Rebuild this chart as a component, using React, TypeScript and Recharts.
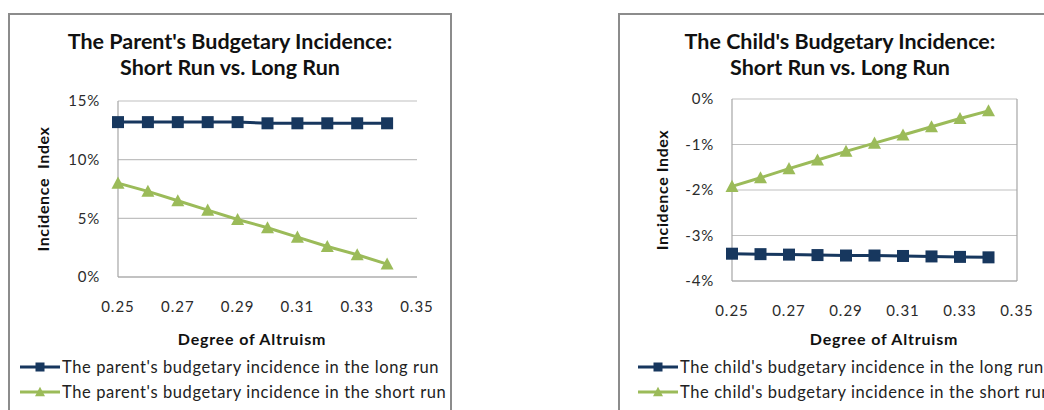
import React from "react";
import {
   LineChart, Line, XAxis, YAxis, CartesianGrid, ReferenceLine,
} from "recharts";

const altruism = [0.25, 0.26, 0.27, 0.28, 0.29, 0.3, 0.31, 0.32, 0.33, 0.34];
const parentLongRun = [13.2, 13.2, 13.2, 13.2, 13.2, 13.1, 13.1, 13.1, 13.1, 13.1];
const parentShortRun = [8.0, 7.3, 6.5, 5.7, 4.9, 4.2, 3.4, 2.6, 1.9, 1.1];
const childLongRun = [-3.4, -3.41, -3.42, -3.43, -3.44, -3.44, -3.45, -3.46, -3.47, -3.48];
const childShortRun = [-1.92, -1.73, -1.53, -1.34, -1.15, -0.97, -0.79, -0.61, -0.43, -0.26];

const xTicks = [0.25, 0.27, 0.29, 0.31, 0.33, 0.35];
const parentTicks = [0, 5, 10, 15];
const childTicks = [-4, -3, -2, -1, 0];

const NAVY = "#17375E";
const GREEN = "#9BBB59";
const FONT = "Lato, 'Open Sans', sans-serif";
const W = 444;
const H = 400;

type Row = { x: number; long: number; short: number };

const parentData: Row[] = altruism.map((x, i) => ({ x, long: parentLongRun[i], short: parentShortRun[i] }));
const childData: Row[] = altruism.map((x, i) => ({ x, long: childLongRun[i], short: childShortRun[i] }));

function Square({ cx, cy, size = 12, fill = NAVY }: { cx: number; cy: number; size?: number; fill?: string }) {
   return <rect x={cx - size / 2} y={cy - size / 2} width={size} height={size} fill={fill} />;
}

function Triangle({ cx, cy, size = 13, fill = GREEN }: { cx: number; cy: number; size?: number; fill?: string }) {
   const h = size * 0.85;
   return (
      <polygon
         points={`${cx},${cy - h / 2 - 1} ${cx + size / 2},${cy + h / 2} ${cx - size / 2},${cy + h / 2}`}
         fill={fill}
      />
   );
}

interface PanelProps {
   left: number;
   data: Row[];
   title: [string, string];
   yLabel: string;
   yDomain: [number, number];
   yTicks: number[];
   legend: [string, string];
   plot: { left: number; right: number; top: number; bottom: number };
   xLabelX: number;
   yLabelX: number;
   legendX: number;
   rightBorder?: boolean;
}

function Panel(p: PanelProps) {
   const xAxisH = 30;
   const plotMid = (p.plot.top + p.plot.bottom) / 2;
   const lx = p.legendX;
   return (
      <div style={{ position: "absolute", left: p.left, top: 13, width: W, height: H }}>
         <div
            style={{
               position: "absolute", left: 0, top: 0, width: W, height: H,
               boxSizing: "border-box", border: "2px solid #8c8c8c",
            }}
         />
         <div style={{ position: "absolute", left: 0, top: 0 }}>
            <LineChart
               width={W}
               height={H}
               data={p.data}
               margin={{ top: p.plot.top, right: W - p.plot.right, left: 0, bottom: H - p.plot.bottom - xAxisH }}
            >
               <CartesianGrid vertical={false} stroke="#c0c0c0" strokeWidth={1.2} />
               <XAxis
                  dataKey="x"
                  type="number"
                  domain={[0.25, 0.35]}
                  ticks={xTicks}
                  tickFormatter={(v: number) => v.toFixed(2)}
                  height={xAxisH}
                  tickLine={false}
                  tickSize={0}
                  tickMargin={24}
                  axisLine={{ stroke: "#a6a6a6", strokeWidth: 1.2 }}
                  tick={{ fill: "#2b2b2b", fontSize: 15, fontFamily: FONT, letterSpacing: 1 }}
               />
               <YAxis
                  type="number"
                  domain={p.yDomain}
                  ticks={p.yTicks}
                  width={p.plot.left}
                  tickFormatter={(v: number) => `${v}%`}
                  tickLine={false}
                  tickSize={0}
                  tickMargin={18}
                  axisLine={{ stroke: "#a6a6a6", strokeWidth: 1.2 }}
                  tick={{ fill: "#2b2b2b", fontSize: 15, fontFamily: FONT, letterSpacing: 0.8 }}
               />
               {p.rightBorder && <ReferenceLine x={0.35} stroke="#a6a6a6" strokeWidth={1.2} />}
               <Line
                  dataKey="long"
                  stroke={NAVY}
                  strokeWidth={3}
                  isAnimationActive={false}
                  dot={(d: any) => <Square key={`sq-${d.index}`} cx={d.cx} cy={d.cy} />}
               />
               <Line
                  dataKey="short"
                  stroke={GREEN}
                  strokeWidth={3}
                  isAnimationActive={false}
                  dot={(d: any) => <Triangle key={`tr-${d.index}`} cx={d.cx} cy={d.cy} />}
               />
               <text x={W / 2} y={36} textAnchor="middle" fontFamily={FONT} fontWeight={700} fontSize={21.5} fill="#111">
                  {p.title[0]}
               </text>
               <text x={W / 2} y={62} textAnchor="middle" fontFamily={FONT} fontWeight={700} fontSize={21.5} fill="#111">
                  {p.title[1]}
               </text>
               <text
                  x={p.yLabelX}
                  y={plotMid}
                  textAnchor="middle"
                  dominantBaseline="central"
                  transform={`rotate(-90 ${p.yLabelX} ${plotMid})`}
                  fontFamily={FONT}
                  fontWeight={700}
                  fontSize={16}
                  letterSpacing={0.6}
                  fill="#111"
                  style={{ whiteSpace: "pre" }}
               >
                  {p.yLabel}
               </text>
               <text x={p.xLabelX} y={332} textAnchor="middle" fontFamily={FONT} fontWeight={700} fontSize={16} letterSpacing={0.8} fill="#111">
                  Degree of Altruism
               </text>
               <g>
                  <line x1={lx} x2={lx + 40} y1={354} y2={354} stroke={NAVY} strokeWidth={3} />
                  <Square cx={lx + 20} cy={354} size={9} />
                  <text x={lx + 42} y={354} dominantBaseline="central" fontFamily={FONT} fontSize={16.5} letterSpacing={0.6} fill="#222">
                     {p.legend[0]}
                  </text>
                  <line x1={lx} x2={lx + 40} y1={379} y2={379} stroke={GREEN} strokeWidth={3} />
                  <Triangle cx={lx + 20} cy={379} size={10} />
                  <text x={lx + 42} y={379} dominantBaseline="central" fontFamily={FONT} fontSize={16.5} letterSpacing={0.6} fill="#222">
                     {p.legend[1]}
                  </text>
               </g>
            </LineChart>
         </div>
      </div>
   );
}

export default function App() {
   return (
      <div style={{ position: "fixed", left: 0, top: 0, width: 1044, height: 410, overflow: "hidden", background: "#fff" }}>
         <Panel
            left={8}
            data={parentData}
            title={["The Parent's Budgetary Incidence:", "Short Run vs. Long Run"]}
            yLabel="Incidence  Index"
            yDomain={[0, 15]}
            yTicks={parentTicks}
            legend={["The parent's budgetary incidence in the long run", "The parent's budgetary incidence in the short run"]}
            plot={{ left: 110, right: 409, top: 88, bottom: 264 }}
            xLabelX={244}
            yLabelX={34}
            legendX={12}
         />
         <Panel
            left={618}
            data={childData}
            title={["The Child's Budgetary Incidence:", "Short Run vs. Long Run"]}
            yLabel="Incidence Index"
            yDomain={[-4, 0]}
            yTicks={childTicks}
            legend={["The child's budgetary incidence in the long run", "The child's budgetary incidence in the short run"]}
            plot={{ left: 114, right: 399, top: 86, bottom: 268 }}
            xLabelX={266}
            yLabelX={43}
            legendX={20}
            rightBorder
         />
      </div>
   );
}
